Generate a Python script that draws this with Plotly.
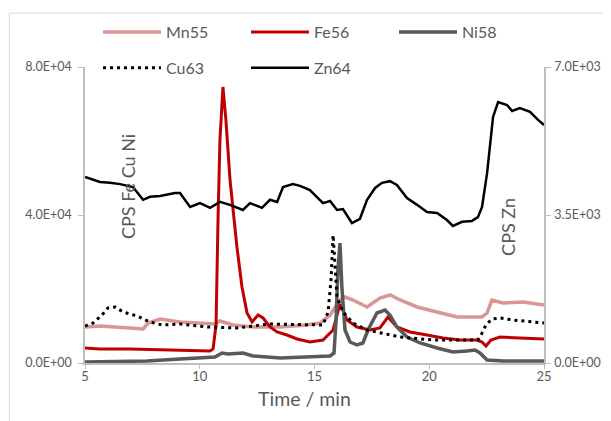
import plotly.graph_objects as go

# Time axis (min) and counts
mn_t = [5.00, 5.65, 6.96, 7.53, 7.75, 8.27, 9.14, 10.01, 10.66, 10.88, 11.45, 12.32, 13.50, 14.67, 15.24,
        15.68, 16.11, 16.33, 16.68, 17.29, 17.85, 18.29, 18.73, 19.47, 20.34, 21.21, 22.30, 22.52, 22.73,
        23.21, 24.08, 25.00]
mn55 = [9730, 10000, 9460, 9190, 10810, 11890, 11080, 10810, 10540, 11350, 10270, 9730, 9730, 10270, 10810,
        12970, 17030, 17840, 17030, 15140, 17570, 18380, 17030, 15140, 13780, 12430, 12430, 13510, 17030,
        16220, 16490, 15680]

fe_t = [5.00, 5.65, 6.96, 8.27, 9.58, 10.45, 10.58, 10.71, 10.80, 10.88, 11.01, 11.14, 11.32, 11.62, 11.84,
        12.06, 12.28, 12.54, 12.76, 13.06, 13.37, 13.80, 14.24, 14.80, 15.37, 15.81, 16.11, 16.42, 16.85,
        17.42, 17.85, 18.20, 18.59, 19.16, 19.90, 20.60, 21.34, 22.08, 22.30, 22.47, 22.69, 23.08, 23.95, 25.00]
fe56 = [4050, 3780, 3780, 3510, 3240, 3240, 3780, 10270, 40000, 60270, 74600, 65680, 49460, 31350, 20540,
        13510, 11080, 12970, 12160, 9730, 8380, 7570, 6490, 5680, 6220, 8920, 15950, 11620, 9730,
        8920, 9460, 12430, 9730, 8380, 7570, 6760, 6220, 6220, 5680, 4600, 6220, 7030, 6760, 6490]

ni_t = [5.00, 7.70, 9.14, 10.45, 10.66, 10.97, 11.23, 11.88, 12.32, 13.50, 14.93, 15.68, 15.85, 15.94, 16.02,
        16.11, 16.20, 16.33, 16.55, 16.85, 17.11, 17.33, 17.72, 18.07, 18.29, 18.59, 19.03, 19.60, 20.34,
        21.03, 21.64, 21.99, 22.21, 22.52, 23.21, 25.00]
ni58 = [270, 540, 1080, 1350, 1620, 2700, 2430, 2700, 1890, 1350, 1620, 1890, 2700, 11620, 25140,
        32430, 19730, 8920, 5680, 4870, 5410, 8920, 13510, 14320, 12970, 9730, 7030, 5410, 4050,
        2970, 3240, 3510, 2700, 810, 540, 540]

cu_t = [5.00, 5.35, 5.74, 6.00, 6.31, 6.66, 7.27, 7.83, 8.36, 9.14, 10.36, 11.62, 13.06, 14.80, 15.37,
        15.59, 15.72, 15.81, 15.89, 15.98, 16.24, 16.68, 17.29, 17.98, 18.73, 20.16, 22.12, 22.30, 22.47,
        22.73, 23.08, 23.65, 24.39, 25.00]
cu63 = [10000, 10810, 12970, 14870, 15140, 13780, 12700, 11080, 10270, 10540, 9730, 9460, 10540, 10270, 10270,
        13780, 22430, 34600, 27840, 17840, 13780, 10810, 8920, 8110, 7030, 6220, 6220, 8110, 10270,
        11890, 12160, 11620, 11080, 10810]

zn_t = [5.00, 5.65, 6.09, 6.53, 7.09, 7.53, 7.83, 8.27, 8.92, 9.14, 9.58, 10.01, 10.45, 10.88, 11.32,
        11.88, 12.19, 12.71, 13.06, 13.37, 13.63, 14.06, 14.37, 14.80, 15.37, 15.68, 15.98, 16.24, 16.63,
        16.98, 17.29, 17.64, 17.94, 18.29, 18.59, 19.03, 19.47, 19.90, 20.34, 20.77, 21.03, 21.43, 21.86,
        22.12, 22.30, 22.52, 22.78, 23.00, 23.39, 23.61, 23.95, 24.39, 24.74, 25.00]
zn64 = [4400, 4280, 4260, 4230, 4160, 3860, 3930, 3950, 4020, 4020, 3690, 3780, 3670, 3810, 3740,
        3620, 3780, 3670, 3860, 3810, 4160, 4230, 4190, 4090, 3780, 3830, 3620, 3640, 3310,
        3410, 3860, 4140, 4260, 4300, 4210, 3900, 3740, 3570, 3550, 3380, 3240, 3340, 3360,
        3450, 3690, 4490, 5820, 6170, 6100, 5960, 6030, 5940, 5750, 5630]

x_ticks = [5, 10, 15, 20, 25]
left_ticks = [0, 40000, 80000]
left_labels = ['0.0E+00', '4.0E+04', '8.0E+04']
right_ticks = [0, 3500, 7000]
right_labels = ['0.0E+00', '3.5E+03', '7.0E+03']

FONT = 'Lato, Calibri, sans-serif'
GREY_TXT = '#595959'
AXIS = '#BFBFBF'

fig = go.Figure()
fig.add_trace(go.Scatter(x=mn_t, y=mn55, name='Mn55', mode='lines',
                         line=dict(color='#DA9694', width=3.5), legend='legend'))
fig.add_trace(go.Scatter(x=fe_t, y=fe56, name='Fe56', mode='lines',
                         line=dict(color='#C00000', width=3), legend='legend'))
fig.add_trace(go.Scatter(x=ni_t, y=ni58, name='Ni58', mode='lines',
                         line=dict(color='#595959', width=3.5), legend='legend'))
fig.add_trace(go.Scatter(x=cu_t, y=cu63, name='Cu63', mode='lines',
                         line=dict(color='black', width=3, dash='3px,4px'), legend='legend2'))
fig.add_trace(go.Scatter(x=zn_t, y=zn64, name='Zn64', mode='lines', yaxis='y2',
                         line=dict(color='black', width=2.5), legend='legend2'))

legend_style = dict(orientation='h', x=0.0283, xanchor='left', yanchor='middle',
                    itemwidth=58, entrywidth=75, bgcolor='rgba(0,0,0,0)',
                    font=dict(family=FONT, size=16, color=GREY_TXT))

# page body adds an 8px offset, so the figure is 8px smaller and shifted margins
fig.update_layout(
    width=603, height=413,
    paper_bgcolor='white', plot_bgcolor='white',
    margin=dict(l=77, r=67, t=59, b=58, autoexpand=False),
    font=dict(family=FONT, color=GREY_TXT),
    legend=dict(y=1.118, **legend_style),
    legend2=dict(y=0.997, **legend_style),
    xaxis=dict(range=[5, 25], tickvals=x_ticks, showgrid=False, zeroline=False,
               showline=True, linecolor=AXIS, linewidth=1.5, ticks='outside', ticklen=4,
               tickcolor=AXIS, ticklabelstandoff=-3, tickfont=dict(size=13, color=GREY_TXT)),
    yaxis=dict(range=[0, 80000], tickvals=left_ticks, ticktext=left_labels, showgrid=False,
               zeroline=False, showline=True, linecolor=AXIS, linewidth=1.5, ticks='outside',
               ticklen=5, tickcolor=AXIS, ticklabelstandoff=4, tickfont=dict(size=12.5, color=GREY_TXT)),
    yaxis2=dict(range=[0, 7000], tickvals=right_ticks, ticktext=right_labels, overlaying='y',
                side='right', showgrid=False, zeroline=False, showline=True, linecolor=AXIS,
                linewidth=1.5, ticks='outside', ticklen=5, tickcolor=AXIS, ticklabelstandoff=1,
                tickfont=dict(size=12.5, color=GREY_TXT)),
)

# axis titles sit inside the plot like the Excel original
fig.add_annotation(text='CPS Fe Cu Ni', xref='paper', yref='paper', x=0.094, y=0.595,
                   xanchor='center', yanchor='middle', textangle=-90, showarrow=False,
                   font=dict(size=18, color=GREY_TXT))
fig.add_annotation(text='CPS Zn', xref='paper', yref='paper', x=0.921, y=0.459,
                   xanchor='center', yanchor='middle', textangle=-90, showarrow=False,
                   font=dict(size=18, color=GREY_TXT))
fig.add_annotation(text='Time / min', xref='paper', yref='paper', x=0.479, y=-0.1216,
                   xanchor='center', yanchor='middle', showarrow=False,
                   font=dict(size=19.5, color=GREY_TXT))

# chart area border
fig.add_shape(type='rect', xref='paper', yref='paper', x0=-0.165, x1=1.3, y0=-0.3, y1=1.182,
              line=dict(color='#D9D9D9', width=1), layer='below')

fig.write_html("out.html")
